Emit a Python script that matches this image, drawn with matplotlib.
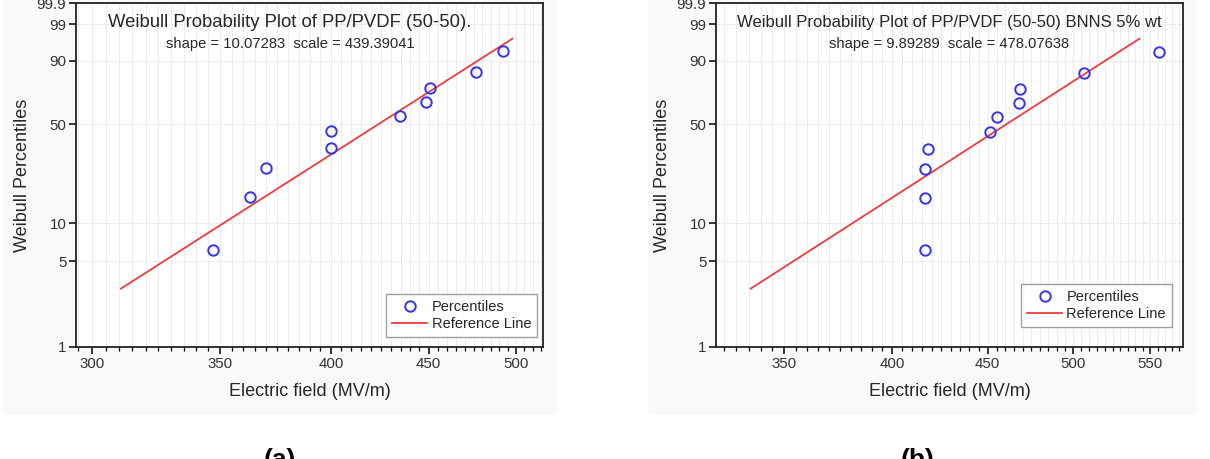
import numpy as np
import matplotlib
matplotlib.use("Agg")
import matplotlib.pyplot as plt
from matplotlib.ticker import FixedLocator, FixedFormatter, NullFormatter, NullLocator
from matplotlib.patches import Rectangle

plt.rcParams['font.family'] = ['Liberation Sans', 'DejaVu Sans']

# Panel (a): PP/PVDF (50-50)
field_a = [347.2, 362.9, 370.0, 400.0, 400.0, 434.8, 448.3, 450.9, 476.3, 492.4]
pct_a = [6.1, 16.0, 25.8, 35.4, 45.6, 55.4, 64.9, 74.7, 84.3, 93.9]
shape_a = 10.07283
scale_a = 439.39041

# Panel (b): PP/PVDF (50-50) BNNS 5% wt
field_b = [416.6, 416.6, 416.6, 418.2, 451.4, 455.1, 468.0, 468.4, 506.6, 555.9]
pct_b = [6.1, 15.7, 25.4, 35.1, 44.7, 54.5, 64.2, 74.0, 83.8, 93.5]
shape_b = 9.89289
scale_b = 478.07638

# reference line drawn between these percentiles
ref_pct = [3.0, 97.0]

y_ticks = [1, 5, 10, 50, 90, 99, 99.9]
y_tick_labels = ["1", "5", "10", "50", "90", "99", "99.9"]
x_ticks_a = [300, 350, 400, 450, 500]
x_ticks_b = [350, 400, 450, 500, 550]

MARKER_COLOR = "#3434ee"
LINE_COLOR = "#ee3b3b"
TEXT_COLOR = "#262626"


def weibull_fwd(p):
    """Percent -> ln(-ln(1-p))."""
    p = np.clip(np.asarray(p, dtype=float) / 100.0, 1e-9, 1 - 1e-9)
    return np.log(-np.log(1 - p))


def weibull_inv(w):
    return 100.0 * (1 - np.exp(-np.exp(np.asarray(w, dtype=float))))


def plot_panel(ax, field, pct, shape, scale, xlim, xticks, title, title_x,
               title_size, leg_anchor):
    ax.set_xscale('log')
    ax.set_yscale('function', functions=(weibull_fwd, weibull_inv))

    ax.plot(field, pct, ls='none', marker='o', ms=7.5, mfc='none',
            mec=MARKER_COLOR, mew=1.4, label='Percentiles', zorder=4)

    # reference line from the fitted shape / scale
    x_ref = scale * np.exp(weibull_fwd(ref_pct) / shape)
    ax.plot(x_ref, ref_pct, color=LINE_COLOR, lw=1.3, label='Reference Line', zorder=3)

    ax.set_xlim(*xlim)
    ax.set_ylim(1, 99.9)

    ax.xaxis.set_major_locator(FixedLocator(xticks))
    ax.xaxis.set_major_formatter(FixedFormatter([str(t) for t in xticks]))
    minor = np.arange(np.ceil(xlim[0] / 5) * 5, xlim[1], 5)
    ax.xaxis.set_minor_locator(FixedLocator(minor))
    ax.xaxis.set_minor_formatter(NullFormatter())

    ax.yaxis.set_major_locator(FixedLocator(y_ticks))
    ax.yaxis.set_major_formatter(FixedFormatter(y_tick_labels))
    ax.yaxis.set_minor_locator(NullLocator())

    ax.grid(True, which='both', axis='x', color='#e9e9e9', lw=0.6)
    ax.grid(True, which='major', axis='y', color='#d4d4d4', lw=0.7, ls=':')
    ax.set_axisbelow(True)

    ax.tick_params(axis='both', which='major', direction='out', length=5,
                   width=1.1, labelsize=10.8, pad=2, labelcolor='#333333')
    ax.tick_params(axis='x', which='minor', direction='out', length=3, width=0.9)
    for sp in ax.spines.values():
        sp.set_linewidth(1.3)
        sp.set_color('#222222')

    ax.text(title_x, 0.931, title, transform=ax.transAxes, ha='center',
            va='baseline', fontsize=title_size, color=TEXT_COLOR)
    ax.text(title_x, 0.868, "shape = %.5f  scale = %.5f" % (shape, scale),
            transform=ax.transAxes, ha='center', va='baseline', fontsize=10.6,
            color=TEXT_COLOR)

    ax.set_xlabel("Electric field (MV/m)", fontsize=13, color=TEXT_COLOR)
    ax.set_ylabel("Weibull Percentiles", fontsize=13, color=TEXT_COLOR)
    ax.xaxis.set_label_coords(0.5, -0.105)
    ax.yaxis.set_label_coords(-0.096, 0.5)

    leg = ax.legend(loc='lower right', bbox_to_anchor=leg_anchor, fontsize=10.5,
                    frameon=True, fancybox=False, edgecolor='#888888',
                    handlelength=2.4, handletextpad=0.3, labelspacing=0.2,
                    borderpad=0.4, borderaxespad=0)
    leg.get_frame().set_linewidth(1.0)
    for t in leg.get_texts():
        t.set_color(TEXT_COLOR)


def main():
    fig = plt.figure(figsize=(12.1, 4.59), dpi=100)
    W, H = 1210.0, 459.0

    # light grey panel backgrounds (behind the axes)
    for x0, x1 in [(3, 556), (648, 1195)]:
        fig.patches.append(Rectangle((x0 / W, (H - 413) / H), (x1 - x0) / W, 413 / H,
                                     transform=fig.transFigure, color='#f9f9f9',
                                     zorder=-10))

    ax_a = fig.add_axes([76 / W, (H - 347) / H, 467 / W, 344 / H])
    ax_b = fig.add_axes([716 / W, (H - 347) / H, 467 / W, 344 / H])

    plot_panel(ax_a, field_a, pct_a, shape_a, scale_a, (294.3, 516.4), x_ticks_a,
               "Weibull Probability Plot of PP/PVDF (50-50).", 0.458, 13.3,
               (0.987, 0.029))
    plot_panel(ax_b, field_b, pct_b, shape_b, scale_b, (321.8, 572.7), x_ticks_b,
               "Weibull Probability Plot of PP/PVDF (50-50) BNNS 5% wt", 0.5, 12.0,
               (0.976, 0.058))

    fig.text(280 / W, 11 / H, "(a)", ha='center', va='top', fontsize=19, fontweight='bold')
    fig.text(918 / W, 11 / H, "(b)", ha='center', va='top', fontsize=19, fontweight='bold')

    fig.savefig("out.png", dpi=100)
    plt.close(fig)


if __name__ == "__main__":
    main()
